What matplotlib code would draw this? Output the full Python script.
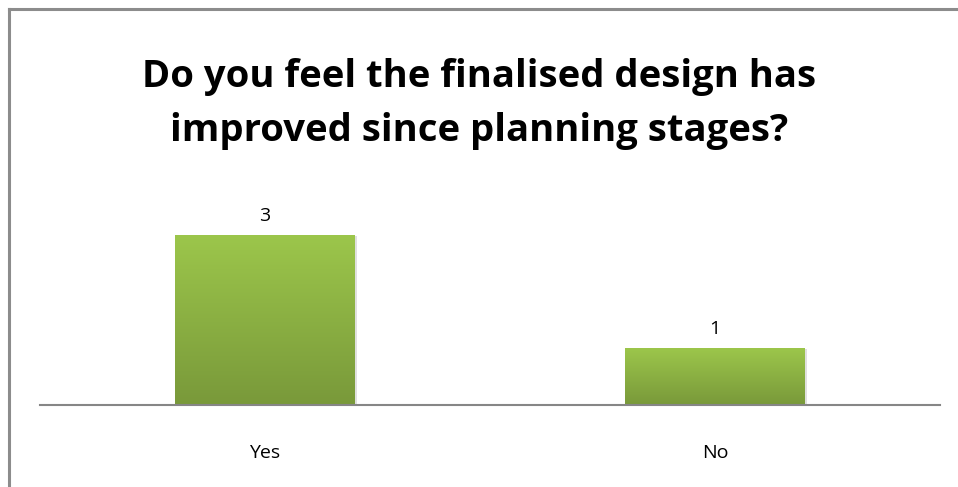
import matplotlib.pyplot as plt
import matplotlib.patches as mpatches
from matplotlib.lines import Line2D
import numpy as np
from matplotlib.colors import LinearSegmentedColormap

categories = ["Yes", "No"]
values = [3, 1]
title = "Do you feel the finalised design has\nimproved since planning stages?"

W, H = 958, 487
fig = plt.figure(figsize=(W / 100, H / 100), dpi=100)

# outer chart border: only left and top edges are visible in the picture
bx, by = 9 / W, 1 - 9 / H
fig.add_artist(Line2D([bx, bx], [-0.05, by], transform=fig.transFigure,
                      color="#8c8c8c", linewidth=2.2))
fig.add_artist(Line2D([bx, 1.05], [by, by], transform=fig.transFigure,
                      color="#8c8c8c", linewidth=2.2))

# plot area: x 40..940 px, baseline at y=405 px
ax = fig.add_axes([40 / W, (H - 405) / H, 900 / W, 205 / H])
ymax = 3 * 205 / 170

cmap = LinearSegmentedColormap.from_list("g", ["#79993a", "#9cc64b"])
grad = np.linspace(0, 1, 256).reshape(-1, 1)
width = 0.4
for i, v in enumerate(values):
    # soft shadow
    sh = mpatches.Rectangle((i - width / 2 + 0.004, -0.02), width, v,
                            facecolor="#000000", alpha=0.12, edgecolor="none",
                            zorder=2)
    ax.add_patch(sh)
    bar = ax.bar(i, v, width=width, color="none", edgecolor="none", zorder=3)[0]
    im = ax.imshow(grad, cmap=cmap, aspect="auto", origin="lower",
                   extent=(i - width / 2, i + width / 2, 0, v), zorder=3)
    im.set_clip_path(bar)
    ax.text(i, v + 0.34, str(v), ha="center", va="center", fontsize=14,
            family="Open Sans", color="#000000")

ax.set_xlim(-0.5, len(categories) - 0.5)
ax.set_ylim(0, ymax)
ax.set_xticks(range(len(categories)))
ax.set_xticklabels(categories, family="Open Sans", fontsize=14)
ax.tick_params(axis="x", length=0, pad=28)
ax.set_yticks([])
for s in ["top", "right", "left"]:
    ax.spines[s].set_visible(False)
ax.spines["bottom"].set_color("#868686")
ax.spines["bottom"].set_linewidth(1.5)
ax.spines["bottom"].set_zorder(4)

fig.text(0.5, 1 - 104 / H, title, ha="center", va="center", fontsize=27.5,
         fontweight="bold", family="Open Sans", linespacing=1.55)

fig.savefig("out.png", dpi=100)
